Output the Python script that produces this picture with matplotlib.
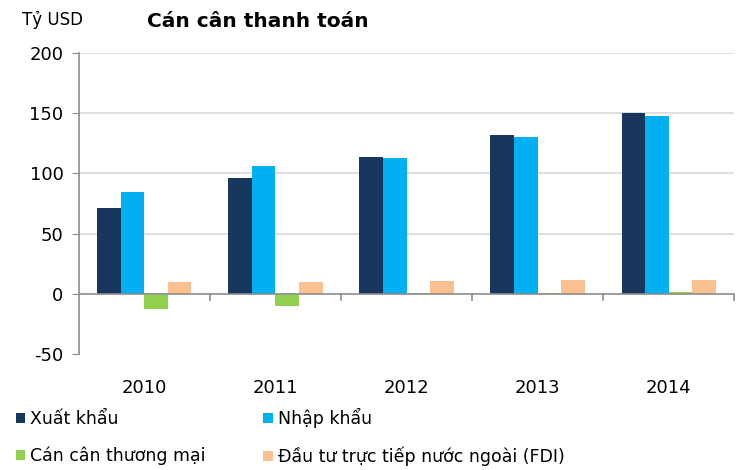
import numpy as np
import matplotlib
matplotlib.use('Agg')
import matplotlib.pyplot as plt

plt.rcParams['font.family'] = ['DejaVu Sans']
plt.rcParams['axes.unicode_minus'] = False

# --- dữ liệu (Tỷ USD) ---
years = ['2010', '2011', '2012', '2013', '2014']
xuat_khau = [71, 96.5, 114, 132, 150]
nhap_khau = [84.5, 106.5, 113, 130.5, 147.5]
can_can_tm = [-12.5, -10, 0.5, 0.5, 1.5]
fdi = [10, 10, 10.5, 11.5, 11.5]

series_names = ['Xuất khẩu', 'Nhập khẩu', 'Cán cân thương mại',
                'Đầu tư trực tiếp nước ngoài (FDI)']
colors = ['#17375E', '#00B0F0', '#92D050', '#FAC090']

fig = plt.figure(figsize=(7.5, 4.7), dpi=100)
ax = fig.add_axes([0.105, 0.247, 0.874, 0.64])

x = np.arange(len(years))
w = 0.18
start = 0.14
bars = []
for k, vals in enumerate([xuat_khau, nhap_khau, can_can_tm, fdi]):
    b = ax.bar(x + start + w * k + w / 2, vals, width=w, color=colors[k],
               linewidth=0, zorder=3, label=series_names[k])
    bars.append(b)

ax.set_xlim(0, len(years))
ax.set_ylim(-50, 200)

# lưới ngang
for yv in [50, 100, 150, 200]:
    ax.axhline(yv, color='#D9D9D9', linewidth=1.2, zorder=1)
ax.axhline(0, color='#8C8C8C', linewidth=1.2, zorder=4)

for s in ['top', 'right', 'bottom']:
    ax.spines[s].set_visible(False)
ax.spines['left'].set_color('#8C8C8C')
ax.spines['left'].set_linewidth(1.2)

ax.set_yticks([-50, 0, 50, 100, 150, 200])
ax.tick_params(axis='y', length=5, color='#8C8C8C', labelsize=13, pad=6)

# vạch phân nhóm trên trục 0
for b in range(1, len(years) + 1):
    ax.plot([b, b], [0, -5], color='#8C8C8C', linewidth=1.2, zorder=4,
            clip_on=False)
ax.set_xticks([])
for i, yr in enumerate(years):
    ax.text(i + 0.5, -78, yr, ha='center', va='center', fontsize=13)

fig.text(0.029, 0.958, 'Tỷ USD', fontsize=12, ha='left', va='center')
fig.text(0.344, 0.955, 'Cán cân thanh toán', fontsize=14.5, fontweight='bold',
         ha='center', va='center')

handles = [bars[0], bars[2], bars[1], bars[3]]
labels = [series_names[0], series_names[2], series_names[1], series_names[3]]
fig.legend(handles, labels, loc='lower left', bbox_to_anchor=(0.0, -0.025),
           ncol=2, frameon=False, fontsize=12.5, handlelength=0.55,
           handleheight=0.55, handletextpad=0.3, columnspacing=3.3,
           labelspacing=1.05)

fig.savefig('out.png', dpi=100)
